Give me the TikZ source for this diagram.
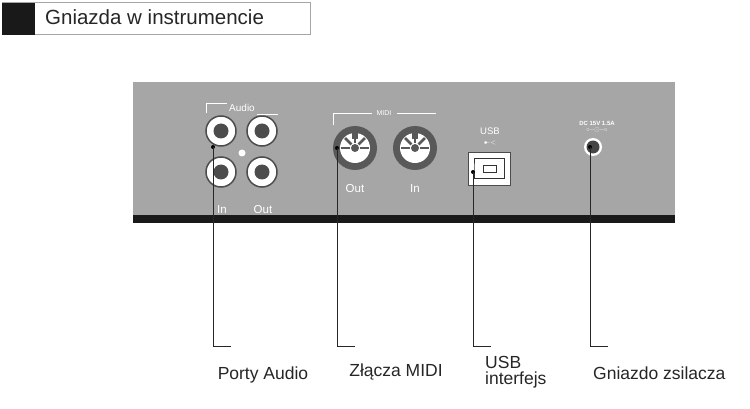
\documentclass[tikz,border=0pt]{standalone}
\usepackage{fontspec}
\setmainfont{Liberation Sans}
\usetikzlibrary{positioning}
\tikzset{panelbox/.style={fill=gray!70,draw=none},
  leader/.style={line width=1pt,draw=black!85},
  callout/.style={font=\fontsize{17.5}{19}\selectfont,text=black!85,inner sep=0pt},
  paneltext/.style={text=white,inner sep=0pt},
  rca/.style={circle,fill=white,draw=black!70,line width=1.5pt,minimum size=30pt,inner sep=0pt},
  midi/.style={circle,fill=black!65,minimum size=44pt,inner sep=0pt}}
\begin{document}
\begin{tikzpicture}[x=1pt,y=-1pt]
    \useasboundingbox[fill=white] (0,0) rectangle (750,409);
    % header
    \draw[gray!70,line width=1pt] (2,3) rectangle (310,35);
    \fill[black!90] (2,3) rectangle (35,35);
    \node[callout,font=\fontsize{20.5}{22}\selectfont,anchor=west] (title) at (45,17) {Gniazda w instrumencie};
    % panel
    \fill[panelbox] (133,82) rectangle (675,215);
    \fill[black!90] (133,215) rectangle (675,223);

    % audio
    \foreach \px/\py/\nm in {221/131/ain, 262/131/aout, 221/172/binl, 262/172/bout} {
      \node[rca] (\nm) at (\px,\py) {};
      \fill[gray!60!black] (\px,\py) circle (7.5);
    }
    \fill[white] (242,153) circle (3.5);
    \node[paneltext,font=\fontsize{10}{11}\selectfont] (audiolbl) at (242,108) {Audio};
    \draw[white,line width=.8pt] (206,113) -- (206,103) -- (227,103);
    \draw[white,line width=.8pt] (257,114) -- (278,114);
    \node[paneltext,font=\fontsize{11.5}{12}\selectfont] (inlbl) at (222,210) {In};
    \node[paneltext,font=\fontsize{11.5}{12}\selectfont] (outlbl) at (263,210) {Out};

    % midi
    \foreach \px/\nm in {355/midiout, 415/midiin} {
      \node[midi] (\nm) at (\px,148) {};
      \fill[white] (\px,148) circle (15);
      \fill[black!65] (\px-3,133) rectangle (\px+3,139);
      \foreach \a in {0,45,90,135,180}
        \draw[black!65,line width=2.5pt] (\px,148) ++(\a+180:5) -- ++(\a+180:9);
      \fill[black!65] (\px,148) circle (4);
    }
    \node[paneltext,font=\fontsize{7}{8}\selectfont] (midilbl) at (384,113) {MIDI};
    \draw[white,line width=.8pt] (333,125) -- (333,113) -- (372,113);
    \draw[white,line width=.8pt] (397,113) -- (436,113);
    \node[paneltext,font=\fontsize{11.5}{12}\selectfont] (midioutlbl) at (355,189) {Out};
    \node[paneltext,font=\fontsize{11.5}{12}\selectfont] (midiinlbl) at (415,189) {In};

    % usb
    \draw[fill=white,draw=black!70,line width=.8pt] (468,152) rectangle (510,185);
    \draw[black!80,line width=1pt] (474,159) -- (504,159) -- (504,179) -- (474,179) -- (474,168) -- cycle;
    \draw[black!80,fill=white,line width=.8pt] (483,165) rectangle (496,172);
    \node[paneltext,font=\fontsize{9.5}{10}\selectfont] (usblbl) at (490,131) {USB};
    \node[paneltext,font=\fontsize{6}{7}\selectfont] (usbsym) at (490,143) {$\bullet\!\!-\!\!<$};

    % dc
    \node[circle,fill=white,minimum size=18pt,inner sep=0pt] (dc) at (593,147) {};
    \fill[gray!55!black] (593,147) circle (6.5);
    \node[paneltext,font=\fontsize{6}{7}\selectfont\bfseries] (dclbl) at (597,123) {DC 15V 1.5A};
    \node[paneltext,font=\fontsize{6}{7}\selectfont] (dcsym) at (597,130) {$\circ\!\!-\!\!\odot\!\!-\!\!\circ$};

    % callouts
    \coordinate (pa) at (213,147);
    \coordinate (pm) at (337,148);
    \coordinate (pu) at (473,172);
    \coordinate (pd) at (590,147);
    \foreach \c in {pa,pm,pu,pd} {
      \fill (\c) circle (2);
      \draw[leader] (\c) |- ([xshift=18pt]\c |- 0,346);
    }
    \node[callout] (audio) at (263,375) {Porty Audio};
    \node[callout] (midi) at (396,372) {Złącza MIDI};
    \node[callout,align=left,anchor=west] (usb) at (485,372) {USB\\[-3pt]interfejs};
    \node[callout,anchor=west] (power) at (593,373) {Gniazdo zsilacza};
\end{tikzpicture}
\end{document}
